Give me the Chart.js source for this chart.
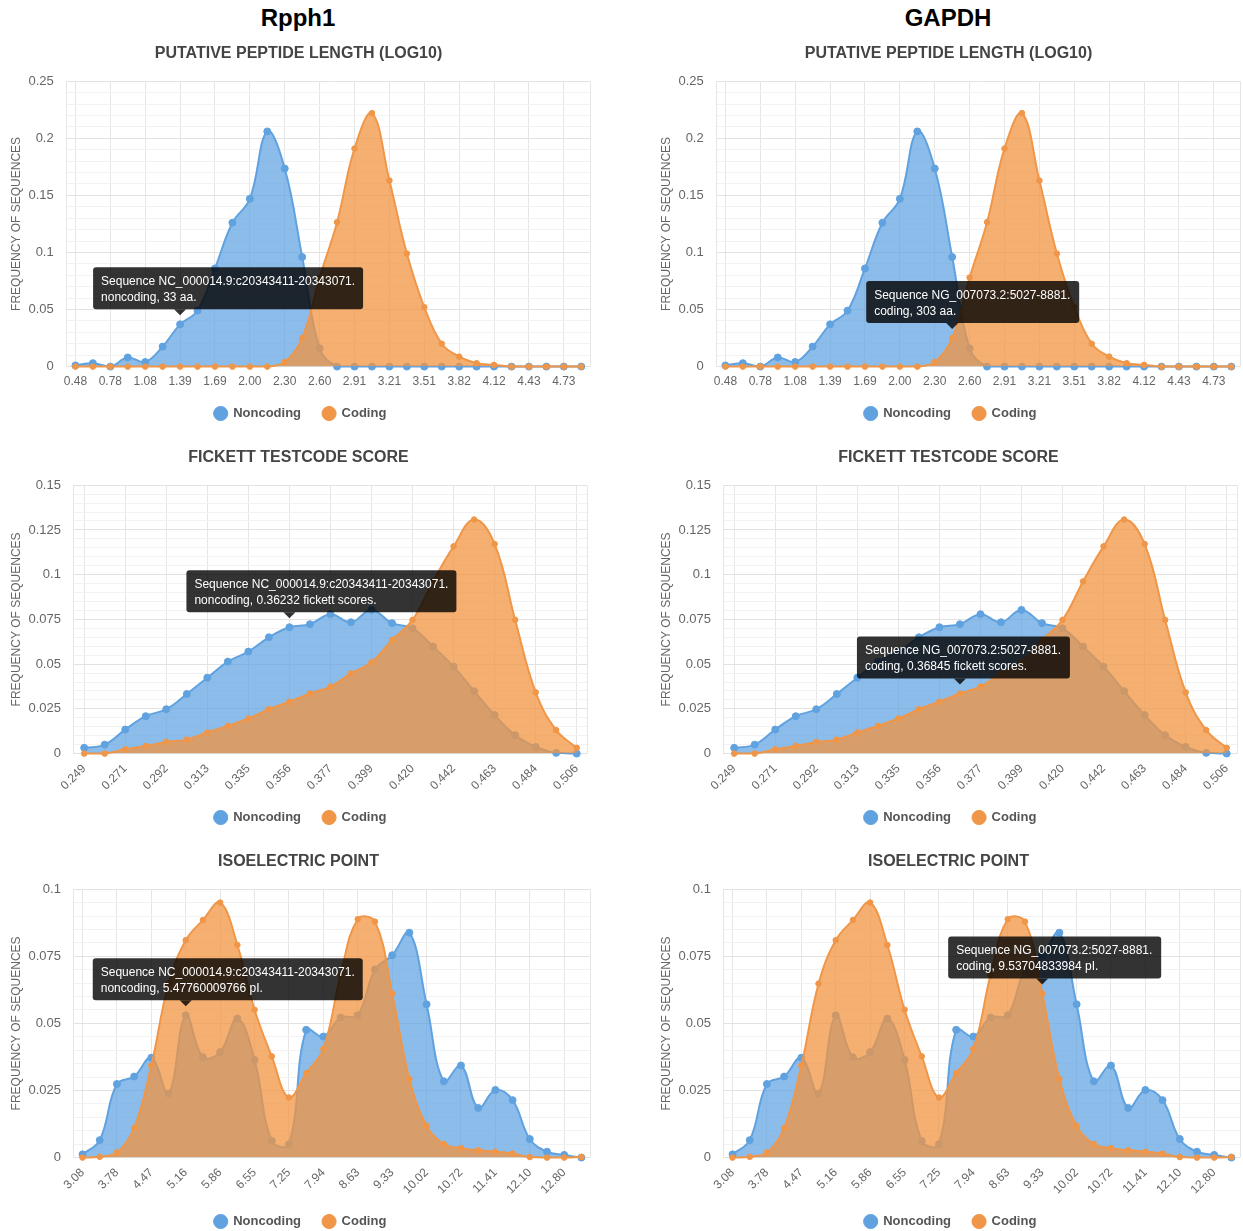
<!DOCTYPE html>
<html><head><meta charset="utf-8">
<script src="https://cdn.jsdelivr.net/npm/chart.js@4.4.0/dist/chart.umd.min.js"></script>
<style>
html,body{margin:0;padding:0;background:#fff;width:1243px;height:1231px;overflow:hidden;font-family:"Liberation Sans",Arial,sans-serif;}
.hdr{position:absolute;top:4px;width:594px;text-align:center;font:bold 24px "Liberation Sans",Arial,sans-serif;color:#000;line-height:28px;}
.box{position:absolute;width:594px;height:407px;}
canvas{display:block;}
</style></head><body>
<div class="hdr" style="left:1px">Rpph1</div>
<div class="hdr" style="left:651px">GAPDH</div>
<div class="box" style="left:1px;top:35px"><canvas id="c1" width="594" height="407"></canvas></div>
<div class="box" style="left:651px;top:35px"><canvas id="c2" width="594" height="407"></canvas></div>
<div class="box" style="left:1px;top:439px"><canvas id="c3" width="594" height="407"></canvas></div>
<div class="box" style="left:651px;top:439px"><canvas id="c4" width="594" height="407"></canvas></div>
<div class="box" style="left:1px;top:843px"><canvas id="c5" width="594" height="407"></canvas></div>
<div class="box" style="left:651px;top:843px"><canvas id="c6" width="594" height="407"></canvas></div>
<script>
// ---------- data ----------
const LENGTH_LABELS = ['0.48','0.63','0.78','0.93','1.08','1.24','1.39','1.54','1.69','1.85','2.00','2.15','2.30','2.45','2.60','2.76','2.91','3.06','3.21','3.36','3.51','3.67','3.82','3.97','4.12','4.27','4.43','4.58','4.73','4.88'];
const LENGTH_NONCODING = [0.001,0.003,0.0,0.008,0.004,0.0175,0.037,0.049,0.086,0.126,0.147,0.206,0.1735,0.096,0.016,0,0,0,0,0,0,0,0,0,0,0,0,0,0,0];
const LENGTH_CODING = [0,0,0,0,0,0,0,0,0,0,0,0,0.004,0.025,0.078,0.1265,0.191,0.222,0.163,0.099,0.052,0.020,0.0087,0.003,0.0015,0,0,0,0,0];

const FICKETT_LABELS = ['0.249','0.260','0.271','0.281','0.292','0.303','0.313','0.324','0.335','0.345','0.356','0.367','0.377','0.388','0.399','0.410','0.420','0.431','0.442','0.452','0.463','0.474','0.484','0.495','0.506'];
const FICKETT_NONCODING = [0.0032,0.005,0.0134,0.0209,0.0248,0.0333,0.0424,0.0514,0.057,0.065,0.0706,0.0723,0.0779,0.0734,0.0803,0.0729,0.070,0.0598,0.0486,0.0349,0.0215,0.0103,0.0037,0.0004,0];
const FICKETT_CODING = [0,0,0.0024,0.0043,0.0065,0.0078,0.0118,0.0155,0.0196,0.0248,0.029,0.0336,0.0374,0.0448,0.051,0.0635,0.0747,0.0962,0.1158,0.1308,0.1171,0.0747,0.0342,0.0131,0.0032];

const PI_LABELS = ['3.08','3.43','3.78','4.12','4.47','4.82','5.16','5.51','5.86','6.21','6.55','6.90','7.25','7.59','7.94','8.29','8.63','8.98','9.33','9.68','10.02','10.37','10.72','11.06','11.41','11.76','12.10','12.45','12.80','13.15'];
const PI_NONCODING = [0.0012,0.0065,0.0274,0.0302,0.0372,0.0239,0.053,0.0374,0.0393,0.0518,0.0364,0.0062,0.005,0.0476,0.0451,0.0522,0.053,0.0701,0.0754,0.0838,0.0571,0.0284,0.0343,0.0185,0.0252,0.0214,0.0069,0.0022,0.001,0];
const PI_CODING = [0,0.0003,0.0019,0.011,0.0343,0.0648,0.081,0.0885,0.095,0.0792,0.0551,0.0377,0.0224,0.0314,0.0405,0.068,0.0888,0.0879,0.0611,0.0293,0.0118,0.005,0.0035,0.0027,0.0022,0.0015,0.0002,0,0,0.0002];

const SERIES_NAMES = ['Noncoding','Coding'];
const TITLES = ['PUTATIVE PEPTIDE LENGTH (LOG10)','FICKETT TESTCODE SCORE','ISOELECTRIC POINT'];
const Y_TITLE = 'FREQUENCY OF SEQUENCES';
const SEQ_RPPH1 = 'Sequence NC_000014.9:c20343411-20343071.';
const SEQ_GAPDH = 'Sequence NG_007073.2:5027-8881.';

// ---------- style ----------
const FONT = '"Liberation Sans", Arial, sans-serif';
Chart.defaults.font.family = FONT;
const BLUE = 'rgb(96,162,224)';
const BLUE_FILL = 'rgba(96,162,224,0.72)';
const ORANGE = 'rgb(240,150,72)';
const ORANGE_FILL = 'rgba(241,148,64,0.74)';
const LEGEND_LIFT = 12;
const LEGEND_NUDGE = 2;

function isMajor(v, step){ const r = v/step; return Math.abs(r-Math.round(r)) < 1e-6; }

function tipPlugin(t){
  return {
    id:'seqTip'+Math.random().toString(36).slice(2),
    afterLayout(chart){
      const L = chart.legend;
      if (L) { L.top -= LEGEND_LIFT; L.bottom -= LEGEND_LIFT; L.left += LEGEND_NUDGE; L.right += LEGEND_NUDGE; }
    },
    afterDraw(chart){
      const a = chart.chartArea, c = chart.ctx;
      c.save();
      c.strokeStyle = '#e6e6e6'; c.lineWidth = 1;
      c.beginPath(); c.moveTo(Math.round(a.right)+0.5, a.top); c.lineTo(Math.round(a.right)+0.5, a.bottom); c.stroke();
      const el = chart.getDatasetMeta(t.ds).data[t.idx];
      c.font = '12px ' + FONT;
      const padX = 8, caret = 6, gap = 9, h = 42;
      const w = Math.ceil(Math.max(...t.lines.map(s => c.measureText(s).width))) + padX*2;
      const tipY = el.y - gap, bottom = tipY - caret, top = bottom - h, left = el.x - t.shift;
      c.fillStyle = 'rgba(0,0,0,0.8)';
      c.beginPath(); c.roundRect(left, top, w, h, 3); c.fill();
      c.beginPath(); c.moveTo(el.x - caret, bottom); c.lineTo(el.x, tipY); c.lineTo(el.x + caret, bottom); c.closePath(); c.fill();
      c.fillStyle = '#fff'; c.textBaseline = 'middle'; c.textAlign = 'left';
      t.lines.forEach((s,i) => c.fillText(s, left + padX, top + 14.5 + i*16));
      c.restore();
    }
  };
}

function build(p){
  new Chart(document.getElementById(p.id), {
    type:'line',
    data:{
      labels:p.labels,
      datasets:[
        {label:SERIES_NAMES[0], data:p.nc, order:1, borderColor:BLUE, backgroundColor:BLUE_FILL,
         pointBackgroundColor:BLUE, pointBorderColor:BLUE, pointRadius:3.5, pointBorderWidth:1,
         borderWidth:2, fill:'origin', tension:0.4, clip:false},
        {label:SERIES_NAMES[1], data:p.co, order:0, borderColor:ORANGE, backgroundColor:ORANGE_FILL,
         pointBackgroundColor:ORANGE, pointBorderColor:ORANGE, pointRadius:2.8, pointBorderWidth:1,
         borderWidth:2, fill:'origin', tension:0.4, clip:false}
      ]
    },
    options:{
      responsive:false, animation:false, events:[], devicePixelRatio:1,
      layout:{padding:{left:4, right:3, top:9, bottom:0}},
      plugins:{
        title:{display:true, text:p.title, color:'#444', font:{size:16, weight:'bold'}, padding:{top:0, bottom:18}},
        legend:{position:'bottom', labels:{usePointStyle:true, pointStyle:'circle', boxWidth:12, boxHeight:10,
          color:'#555', font:{size:13, weight:'bold'}, padding:22, sort:(a,b)=>a.datasetIndex-b.datasetIndex}},
        tooltip:{enabled:false}
      },
      scales:{
        x:{offset:true, grid:{offset:false, color:'#e6e6e6', drawTicks:false}, border:{display:false},
           ticks:{autoSkip:false, minRotation:p.rot, maxRotation:p.rot, padding:8, color:'#666', font:{size:12},
             callback:function(v,i){ return i%2===0 ? this.getLabelForValue(v) : null; }}},
        y:{min:0, max:p.max,
           grid:{drawTicks:false, color:(c)=> isMajor(c.tick.value, p.major) ? '#e2e2e2' : '#f2f2f2'},
           border:{display:true, color:'#e6e6e6'},
           ticks:{stepSize:p.minor, maxTicksLimit:200, autoSkip:false, padding:13, color:'#666', font:{size:13},
             callback:(v)=> isMajor(v, p.major) ? String(Number(v.toFixed(4))) : ''},
           title:{display:true, text:Y_TITLE, color:'#666', font:{size:12}, padding:{top:4, bottom:-8}}}
      }
    },
    plugins:[tipPlugin(p.tip)]
  });
}

const PANELS = [
  {id:'c1', title:TITLES[0], labels:LENGTH_LABELS, nc:LENGTH_NONCODING, co:LENGTH_CODING, max:0.25, minor:0.01, major:0.05, rot:0,
   tip:{ds:0, idx:6, shift:87, lines:[SEQ_RPPH1, 'noncoding, 33 aa.']}},
  {id:'c2', title:TITLES[0], labels:LENGTH_LABELS, nc:LENGTH_NONCODING, co:LENGTH_CODING, max:0.25, minor:0.01, major:0.05, rot:0,
   tip:{ds:1, idx:13, shift:86, lines:[SEQ_GAPDH, 'coding, 303 aa.']}},
  {id:'c3', title:TITLES[1], labels:FICKETT_LABELS, nc:FICKETT_NONCODING, co:FICKETT_CODING, max:0.15, minor:0.005, major:0.025, rot:45,
   tip:{ds:0, idx:10, shift:103, lines:[SEQ_RPPH1, 'noncoding, 0.36232 fickett scores.']}},
  {id:'c4', title:TITLES[1], labels:FICKETT_LABELS, nc:FICKETT_NONCODING, co:FICKETT_CODING, max:0.15, minor:0.005, major:0.025, rot:45,
   tip:{ds:1, idx:11, shift:103, lines:[SEQ_GAPDH, 'coding, 0.36845 fickett scores.']}},
  {id:'c5', title:TITLES[2], labels:PI_LABELS, nc:PI_NONCODING, co:PI_CODING, max:0.1, minor:0.005, major:0.025, rot:45,
   tip:{ds:0, idx:6, shift:93, lines:[SEQ_RPPH1, 'noncoding, 5.47760009766 pI.']}},
  {id:'c6', title:TITLES[2], labels:PI_LABELS, nc:PI_NONCODING, co:PI_CODING, max:0.1, minor:0.005, major:0.025, rot:45,
   tip:{ds:1, idx:18, shift:94, lines:[SEQ_GAPDH, 'coding, 9.53704833984 pI.']}}
];
PANELS.forEach(build);
</script>
</body></html>
